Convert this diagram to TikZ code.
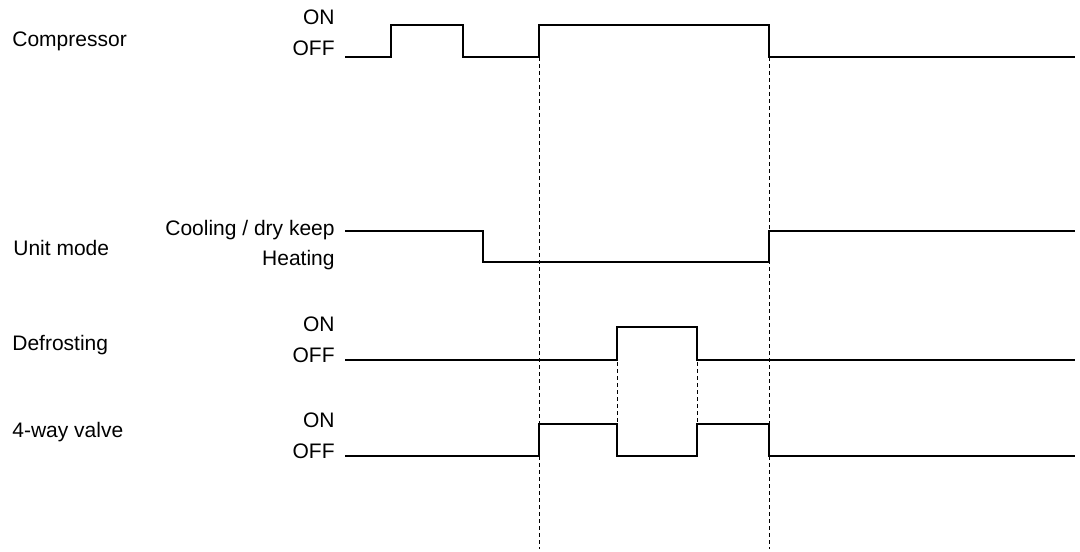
\documentclass[tikz,border=0pt]{standalone}
\usepackage{fontspec}
\setmainfont{Liberation Sans}
\usepackage{tikz}
\usetikzlibrary{positioning}
\tikzset{
	signal/.style={line width=0.65pt, line join=miter},
	guide/.style={line width=0.45pt, dash pattern=on 2pt off 1.5pt},
	signame/.style={anchor=base west, inner sep=0pt, font=\fontsize{10.5pt}{12pt}\selectfont},
	levelname/.style={anchor=base east, inner sep=0pt, font=\fontsize{10.5pt}{12pt}\selectfont}
}

\begin{document}
\begin{tikzpicture}[x=0.5pt,y=-0.5pt]
	\useasboundingbox (0,0) rectangle (1080,551);
	% time marks
	\draw[guide] (539,57) -- (539,549);
	\draw[guide] (769,57) -- (769,549);
	\draw[guide] (617,327) -- (617,456);
	\draw[guide] (697,327) -- (697,456);
	% signal names
	\node[signame] (comp) at (12,47) {Compressor};
	\node[signame] (unit) at (13,255) {Unit mode};
	\node[signame] (defrost) at (12,350) {Defrosting};
	\node[signame] (valve) at (12,437) {4-way valve};
	% levels
	\node[levelname] (compon) at (335,25) {ON};
	\node[levelname] (compoff) at (335,56) {OFF};
	\node[levelname] (unitcool) at (335,235) {Cooling / dry keep};
	\node[levelname] (unitheat) at (335,265) {Heating};
	\node[levelname] (defroston) at (335,331) {ON};
	\node[levelname] (defrostoff) at (335,362) {OFF};
	\node[levelname] (valveon) at (335,427) {ON};
	\node[levelname] (valveoff) at (335,458) {OFF};
	% signals
	\draw[signal] (345,57) -- (391,57) -- (391,25) -- (463,25) -- (463,57) -- (539,57)
		-- (539,25) -- (769,25) -- (769,57) -- (1075,57);
	\draw[signal] (345,231) -- (483,231) -- (483,262) -- (769,262) -- (769,231) -- (1075,231);
	\draw[signal] (345,360) -- (617,360) -- (617,327) -- (697,327) -- (697,360) -- (1075,360);
	\draw[signal] (345,456) -- (539,456) -- (539,424) -- (617,424) -- (617,456) -- (697,456)
		-- (697,424) -- (769,424) -- (769,456) -- (1075,456);
\end{tikzpicture}
\end{document}
